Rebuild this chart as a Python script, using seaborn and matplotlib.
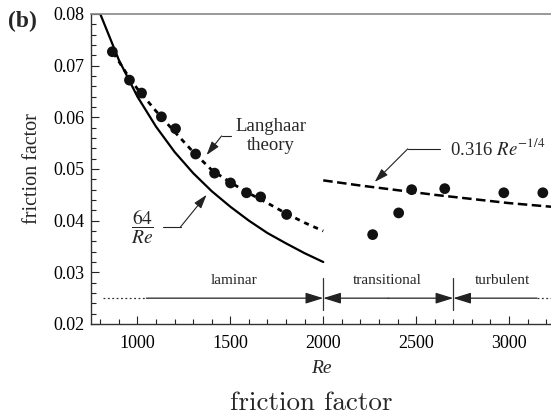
import matplotlib
matplotlib.use("Agg")
import matplotlib.pyplot as plt
import seaborn as sns
import pandas as pd
from matplotlib.ticker import MultipleLocator, FormatStrFormatter

# ---------------- data ----------------
exp_re = [865, 957, 1022, 1129, 1205, 1313, 1415, 1501, 1587, 1663, 1803,
          2266, 2406, 2476, 2654, 2972, 3182]
exp_f = [0.0727, 0.0672, 0.0647, 0.0601, 0.0578, 0.0529, 0.0492, 0.0473,
         0.0454, 0.0446, 0.0412, 0.0373, 0.0415, 0.0460, 0.0462, 0.0454, 0.0454]

lam_re = [800, 900, 1000, 1100, 1200, 1300, 1400, 1500, 1600, 1700, 1800, 1900, 2000]
lam_f = [0.0800, 0.0711, 0.0640, 0.0582, 0.0533, 0.0492, 0.0457, 0.0427,
         0.0400, 0.0376, 0.0356, 0.0337, 0.0320]

lang_re = [870, 950, 1000, 1100, 1200, 1300, 1400, 1500, 1600, 1700, 1800, 1900, 2000]
lang_f = [0.0725, 0.0680, 0.0655, 0.0612, 0.0572, 0.0533, 0.0498, 0.0474,
          0.0453, 0.0434, 0.0414, 0.0396, 0.0380]

bla_re = [2000, 2200, 2400, 2600, 2800, 3000, 3226]
bla_f = [0.0478, 0.0468, 0.0459, 0.0450, 0.0442, 0.0434, 0.0427]

regime_names = ["laminar", "transitional", "turbulent"]
regime_bounds = [2000, 2700]
regime_label_x = [1520, 2347, 2966]

xticks = [1000, 1500, 2000, 2500, 3000]
yticks = [0.02, 0.03, 0.04, 0.05, 0.06, 0.07, 0.08]

# ---------------- style ----------------
sns.set_theme(style="ticks")
plt.rcParams["font.family"] = ["Liberation Serif", "DejaVu Serif"]
plt.rcParams["mathtext.fontset"] = "stix"

W, H = 551, 418
fig = plt.figure(figsize=(W / 100, H / 100), dpi=100)
ax = fig.add_axes([91 / W, (H - 324) / H, (W - 91) / W, (324 - 14) / H])

lam_df = pd.DataFrame({"Re": lam_re, "f": lam_f})
lang_df = pd.DataFrame({"Re": lang_re, "f": lang_f})
bla_df = pd.DataFrame({"Re": bla_re, "f": bla_f})
exp_df = pd.DataFrame({"Re": exp_re, "f": exp_f})

sns.lineplot(data=lam_df, x="Re", y="f", ax=ax, color="black", lw=1.6)
sns.lineplot(data=lang_df, x="Re", y="f", ax=ax, color="black", lw=2.0,
             linestyle=(0, (1.8, 1.8)))
sns.lineplot(data=bla_df, x="Re", y="f", ax=ax, color="black", lw=1.8,
             linestyle=(0, (3.8, 1.8)))
sns.scatterplot(data=exp_df, x="Re", y="f", ax=ax, color="#111111", s=60,
                edgecolor="none", zorder=5)

ax.set_xlim(750, 3226)
ax.set_ylim(0.02, 0.08)
ax.set_xticks(xticks)
ax.set_yticks(yticks)
ax.xaxis.set_minor_locator(MultipleLocator(100))
ax.yaxis.set_minor_locator(MultipleLocator(0.002))
ax.yaxis.set_major_formatter(FormatStrFormatter("%.2f"))
ax.tick_params(which="both", direction="in", colors="#222222", labelsize=13,
               labelcolor="black", width=0.8)
ax.tick_params(which="major", length=6)
ax.tick_params(which="minor", length=3.5)
ax.tick_params(axis="x", pad=8)
ax.tick_params(axis="y", pad=5)
for sp in ["left", "bottom"]:
    ax.spines[sp].set_color("#333333")
    ax.spines[sp].set_linewidth(1.0)
ax.spines["top"].set_color("#888888")
ax.spines["top"].set_linewidth(1.2)
ax.spines["right"].set_visible(False)

ax.set_xlabel("Re", fontsize=14, style="italic", labelpad=6)
ax.set_ylabel("friction factor", fontsize=14.5, labelpad=8)

# ---------------- regime markers ----------------
yl = 0.025
ap = dict(arrowstyle="-|>,head_length=0.9,head_width=0.28", color="#222222",
          lw=0.9, shrinkA=0, shrinkB=0)
ax.plot([817, 1048], [yl, yl], color="#333333", lw=0.9, linestyle=(0, (1.5, 2)))
ax.annotate("", xy=(regime_bounds[0], yl), xytext=(1048, yl), arrowprops=ap)
ax.annotate("", xy=(regime_bounds[0], yl), xytext=(2350, yl), arrowprops=ap)
ax.annotate("", xy=(regime_bounds[1], yl), xytext=(2350, yl), arrowprops=ap)
ax.annotate("", xy=(regime_bounds[1], yl), xytext=(3150, yl), arrowprops=ap)
ax.plot([3150, 3226], [yl, yl], color="#333333", lw=0.9, linestyle=(0, (1.5, 2)))
for b in regime_bounds:
    ax.plot([b, b], [0.0227, 0.0289], color="#333333", lw=0.9)
for name, xc in zip(regime_names, regime_label_x):
    ax.text(xc, 0.0272, name, fontsize=11, ha="center", va="bottom")

# ---------------- curve annotations ----------------
lp = dict(arrowstyle="-|>,head_length=0.7,head_width=0.22", color="#222222",
          lw=0.8, shrinkA=0, shrinkB=0)
# Langhaar
ax.plot([1506, 1453], [0.0564, 0.0564], color="#222222", lw=0.8)
ax.annotate("", xy=(1372, 0.0527), xytext=(1453, 0.0564), arrowprops=lp)
ax.text(1717, 0.0564, "Langhaar\ntheory", fontsize=13.5, ha="center",
        va="center", linespacing=1.1)
# 64/Re
ax.plot([1135, 1232], [0.0388, 0.0388], color="#222222", lw=0.8)
ax.annotate("", xy=(1372, 0.0450), xytext=(1232, 0.0388), arrowprops=lp)
ax.text(1027, 0.0388, r"$\dfrac{64}{\mathit{Re}}$", fontsize=14,
        ha="center", va="center")
# Blasius
ax.plot([2627, 2455], [0.0539, 0.0539], color="#222222", lw=0.8)
ax.annotate("", xy=(2277, 0.0475), xytext=(2455, 0.0539), arrowprops=lp)
ax.text(2681, 0.0539, r"0.316 $\mathit{Re}^{-1/4}$", fontsize=13.5,
        ha="left", va="center")

# ---------------- figure texts ----------------
fig.text(8 / W, 1 - 21 / H, "(b)", fontsize=17, fontweight="bold",
         ha="left", va="center")
fig.text(311 / W, (H - 410) / H, "friction factor", fontsize=19.5,
         family="cmr10", ha="center", va="baseline")

fig.savefig("out.png", dpi=100)
